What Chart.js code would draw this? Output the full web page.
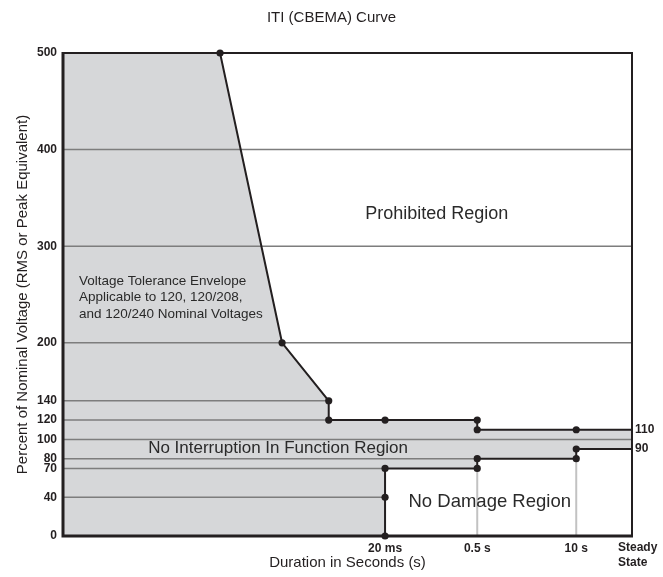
<!DOCTYPE html>
<html>
<head>
<meta charset="utf-8">
<title>ITI (CBEMA) Curve</title>
<script src="https://cdn.jsdelivr.net/npm/chart.js@4.4.1/dist/chart.umd.min.js"></script>
<style>
  html, body { margin: 0; padding: 0; background: #fff; }
  #wrap { width: 663px; height: 577px; }
</style>
</head>
<body>
<div id="wrap"><canvas id="iti"></canvas></div>
<script>
// x is a schematic duration axis: 0 = left edge, 100 = steady state
const durationLabels = ['20 ms', '0.5 s', '10 s', 'Steady State'];
const durationPos = [56.6, 72.8, 90.2, 100];

const voltageTicks = [0, 40, 70, 80, 100, 120, 140, 200, 300, 400, 500];
const sideTicks = [90, 110];

// upper boundary of the envelope
const upperX = [0, 27.6, 38.5, 46.7, 46.7, 56.6, 72.8, 72.8, 90.2, 100];
const upperY = [500, 500, 200, 140, 120, 120, 120, 110, 110, 110];

// lower boundary of the envelope
const lowerX = [100, 90.2, 90.2, 72.8, 72.8, 56.6, 56.6, 56.6];
const lowerY = [90, 90, 80, 80, 70, 70, 40, 0];

// horizontal reference lines, and where each one stops
const refLevels = [400, 300, 200, 140, 120, 100, 80, 70, 40];
const refEnds = [100, 100, 100, 46.7, 46.7, 100, 72.8, 56.6, 56.6];

// light drop lines in the no damage region
const dropX = [72.8, 90.2];
const dropTop = [70, 80];

const ink = '#231f20';
const font = 'Liberation Sans, Arial, Helvetica, sans-serif';

const pts = (xs, ys) => xs.map((x, i) => ({ x: x, y: ys[i] }));

const refSets = refLevels.map((lvl, i) => ({
  data: [{ x: 0, y: lvl }, { x: refEnds[i], y: lvl }],
  borderColor: '#7d7d7d',
  borderWidth: 1.5,
  pointRadius: 0,
  fill: false,
  order: 2
}));

const dropSets = dropX.map((x, i) => ({
  data: [{ x: x, y: dropTop[i] }, { x: x, y: 0 }],
  borderColor: '#c2c2c2',
  borderWidth: 2,
  pointRadius: 0,
  fill: false,
  order: 1
}));

// frame, region names and the steady state label
const extras = {
  id: 'extras',
  afterDatasetsDraw(chart) {
    const { ctx, chartArea: a, scales } = chart;
    const xs = scales.x, ys = scales.y;
    ctx.save();
    ctx.strokeStyle = ink;
    ctx.lineWidth = 2;
    ctx.beginPath();
    ctx.moveTo(a.left, a.top); ctx.lineTo(a.right, a.top); ctx.lineTo(a.right, a.bottom);
    ctx.stroke();
    ctx.lineWidth = 3;
    ctx.beginPath();
    ctx.moveTo(a.left, a.top - 1); ctx.lineTo(a.left, a.bottom); ctx.lineTo(a.right + 1, a.bottom);
    ctx.stroke();

    ctx.fillStyle = '#2a2a2a';
    ctx.textBaseline = 'middle';
    ctx.textAlign = 'center';
    ctx.font = '18px ' + font;
    ctx.fillText('Prohibited Region', xs.getPixelForValue(65.7), ys.getPixelForValue(333));
    ctx.font = '18.5px ' + font;
    ctx.fillText('No Damage Region', xs.getPixelForValue(75), ys.getPixelForValue(35.5));
    ctx.font = '17px ' + font;
    ctx.fillText('No Interruption In Function Region', xs.getPixelForValue(37.8), ys.getPixelForValue(91));

    ctx.textAlign = 'left';
    ctx.textBaseline = 'alphabetic';
    ctx.font = '13.5px ' + font;
    const ex = xs.getPixelForValue(2.8);
    const ey = ys.getPixelForValue(260);
    ['Voltage Tolerance Envelope', 'Applicable to 120, 120/208,', 'and 120/240 Nominal Voltages']
      .forEach((t, i) => ctx.fillText(t, ex, ey + i * 16.5));

    ctx.fillStyle = ink;
    ctx.font = 'bold 12px ' + font;
    ctx.textBaseline = 'middle';
    const sx = xs.getPixelForValue(durationPos[3]) - 14;
    durationLabels[3].split(' ').forEach((t, i) => ctx.fillText(t, sx, a.bottom + 12 + i * 15));
    ctx.restore();
  }
};

new Chart(document.getElementById('iti'), {
  type: 'line',
  data: {
    datasets: [
      {
        data: pts(upperX, upperY),
        borderColor: ink,
        borderWidth: 2,
        pointRadius: c => (c.dataIndex === 0 || c.dataIndex === upperX.length - 1) ? 0 : 3.6,
        pointBackgroundColor: ink,
        pointBorderWidth: 0,
        fill: false,
        clip: 8,
        order: 0
      },
      {
        data: pts(lowerX, lowerY),
        borderColor: ink,
        borderWidth: 2,
        pointRadius: c => c.dataIndex === 0 ? 0 : 3.6,
        pointBackgroundColor: ink,
        pointBorderWidth: 0,
        fill: false,
        clip: 8,
        order: 0
      },
      ...dropSets,
      ...refSets,
      {
        // no damage region painted white over the envelope
        data: pts(lowerX, lowerY),
        borderWidth: 0,
        pointRadius: 0,
        backgroundColor: '#ffffff',
        fill: 'origin',
        order: 3
      },
      {
        // the shaded tolerance envelope
        data: pts(upperX, upperY),
        borderWidth: 0,
        pointRadius: 0,
        backgroundColor: '#d6d7d9',
        fill: 'origin',
        order: 4
      }
    ]
  },
  options: {
    responsive: true,
    maintainAspectRatio: false,
    animation: false,
    devicePixelRatio: 1,
    events: [],
    plugins: {
      legend: { display: false },
      tooltip: { enabled: false },
      title: {
        display: true,
        text: 'ITI (CBEMA) Curve',
        color: ink,
        font: { family: font, size: 15, weight: 'normal' },
        padding: { top: 9, bottom: 26 }
      }
    },
    scales: {
      x: {
        type: 'linear',
        min: 0,
        max: 100,
        afterBuildTicks: s => { s.ticks = durationPos.slice(0, 3).map(v => ({ value: v })); },
        afterFit: s => { s.height = 41; },
        grid: { display: false, drawTicks: false },
        border: { display: false },
        ticks: {
          autoSkip: false,
          maxRotation: 0,
          padding: 5,
          color: ink,
          font: { family: font, size: 12, weight: 'bold' },
          callback: v => durationLabels[durationPos.indexOf(v)]
        },
        title: {
          display: true,
          text: 'Duration in Seconds (s)',
          color: ink,
          font: { family: font, size: 15 },
          padding: { top: 0, bottom: 5 }
        }
      },
      y: {
        type: 'linear',
        min: 0,
        max: 500,
        afterBuildTicks: s => { s.ticks = voltageTicks.map(v => ({ value: v })); },
        afterFit: s => { s.width = 63; },
        grid: { display: false, drawTicks: false },
        border: { display: false },
        ticks: {
          autoSkip: false,
          padding: 6,
          color: ink,
          font: { family: font, size: 12, weight: 'bold' }
        },
        title: {
          display: true,
          text: 'Percent of Nominal Voltage (RMS or Peak Equivalent)',
          color: ink,
          font: { family: font, size: 15 },
          padding: { top: 14, bottom: 0 }
        }
      },
      y2: {
        type: 'linear',
        position: 'right',
        min: 0,
        max: 500,
        afterBuildTicks: s => { s.ticks = sideTicks.map(v => ({ value: v })); },
        afterFit: s => { s.width = 31; },
        grid: { display: false, drawTicks: false },
        border: { display: false },
        ticks: {
          autoSkip: false,
          padding: 3,
          color: ink,
          font: { family: font, size: 12, weight: 'bold' }
        }
      }
    }
  },
  plugins: [extras]
});
</script>
</body>
</html>
